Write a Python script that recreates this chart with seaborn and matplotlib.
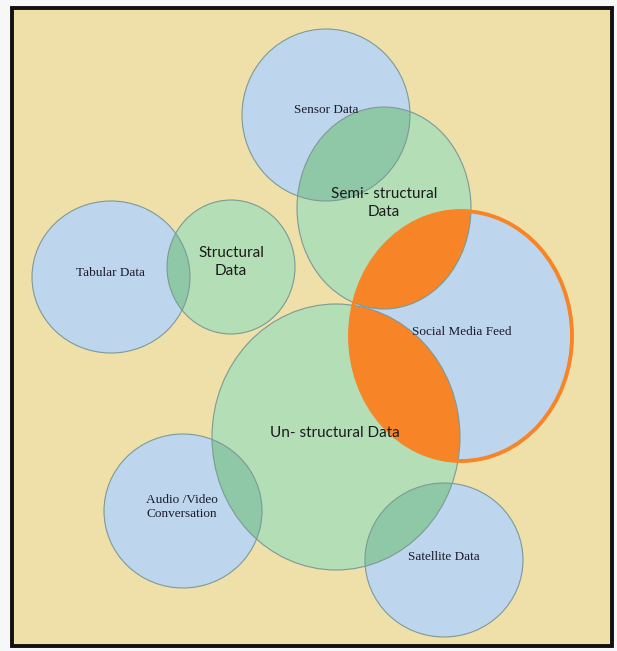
import matplotlib
matplotlib.use("Agg")
import matplotlib.pyplot as plt
from matplotlib.patches import Ellipse, Rectangle
import seaborn as sns

# ---- data (pixel-space diagram geometry) ----
names = ["Sensor Data", "Semi- structural\nData", "Tabular Data", "Structural\nData",
         "Social Media Feed", "Un- structural Data", "Audio /Video\nConversation", "Satellite Data"]
cx = [326, 384, 111, 231, 461, 336, 183, 444]
cy = [115, 208, 277, 267, 336, 437, 511, 560]
rx = [84, 87, 79, 64, 111, 124, 79, 79]
ry = [86, 101, 76, 67, 125, 133, 77, 77]
kind = ["blue", "green", "blue", "green", "social", "green", "blue", "blue"]
label_x = [326, 384, 111, 231, 462, 335, 182, 444]
label_y = [110, 203, 273, 262, 332, 433, 507, 557]
# overlaps: (green index, blue index)
overlaps = [(1, 0), (3, 2), (5, 6), (5, 7)]
lenses = [1, 5]  # green circles intersecting the social media feed
social = 4

BG = "#EFE0A9"
BLUE = "#BDD6EE"
GREEN = "#B3DEB6"
TEAL = "#8FC8A6"
ORANGE = "#F78426"
EDGE = "#7C9A96"

sns.set_theme(style="white")
fig = plt.figure(figsize=(6.17, 6.51), dpi=100)
fig.patch.set_facecolor("#F7F7F7")
ax = fig.add_axes([0, 0, 1, 1])
ax.set_xlim(0, 617)
ax.set_ylim(651, 0)
ax.axis("off")
sns.despine(ax=ax, left=True, bottom=True)

ax.add_patch(Rectangle((12, 8), 600, 638, facecolor=BG, edgecolor="#111111", lw=2.8, zorder=0))


def ell(i, **kw):
    return Ellipse((cx[i], cy[i]), 2 * rx[i], 2 * ry[i], **kw)


# base fills
for i, k in enumerate(kind):
    if k == "blue":
        ax.add_patch(ell(i, facecolor=BLUE, edgecolor="none", zorder=1))
for i, k in enumerate(kind):
    if k == "green":
        ax.add_patch(ell(i, facecolor=GREEN, edgecolor="none", zorder=2))
# teal overlaps
for g, b in overlaps:
    clip = ell(b, facecolor="none", edgecolor="none")
    ax.add_patch(clip)
    p = ell(g, facecolor=TEAL, edgecolor="none", zorder=3)
    ax.add_patch(p)
    p.set_clip_path(clip)
# social media feed
ax.add_patch(ell(social, facecolor=BLUE, edgecolor="none", zorder=4))
sclip = ell(social, facecolor="none", edgecolor="none")
ax.add_patch(sclip)
for g in lenses:
    p = ell(g, facecolor=ORANGE, edgecolor="none", zorder=5)
    ax.add_patch(p)
    p.set_clip_path(sclip)

# edges
for i, k in enumerate(kind):
    if k != "social":
        ax.add_patch(ell(i, facecolor="none", edgecolor=EDGE, lw=0.8, zorder=6))
ax.add_patch(ell(social, facecolor="none", edgecolor=ORANGE, lw=2.8, zorder=7))

# labels
for i, k in enumerate(kind):
    if k == "green":
        ax.text(label_x[i], label_y[i], names[i], ha="center", va="center",
                family=["Lato", "DejaVu Sans"], fontsize=11, color="#1b1b1b",
                linespacing=1.4, zorder=8)
    else:
        ax.text(label_x[i], label_y[i], names[i], ha="center", va="center",
                family=["Liberation Serif", "DejaVu Serif"], fontsize=9.5, color="#1c1c2a",
                linespacing=1.15, zorder=8)

fig.savefig("out.png", dpi=100, facecolor=fig.get_facecolor())
